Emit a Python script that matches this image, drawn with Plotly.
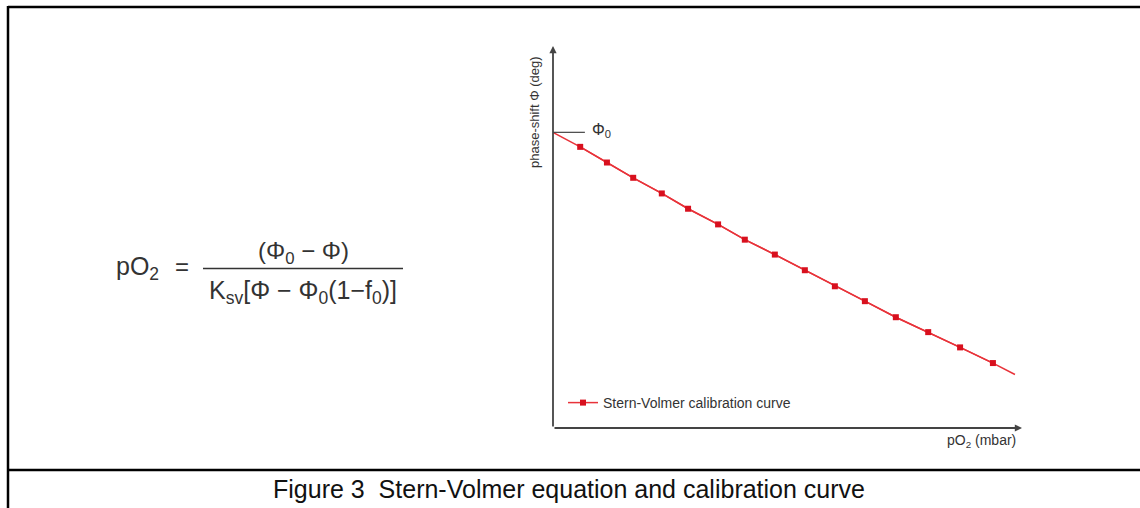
import plotly.graph_objects as go

# Data (arbitrary units: pO2 0..100, phase-shift 0..100)
po2_points = [5.8, 11.5, 17.1, 23.2, 28.8, 35.2, 40.9, 47.3, 53.7, 60.1, 66.5, 73.1, 80.0, 86.8, 93.8]
phase_points = [73.6, 69.5, 65.5, 61.4, 57.4, 53.3, 49.3, 45.4, 41.3, 37.1, 33.2, 29.0, 25.1, 21.1, 17.0]
phi0 = 77.4
po2_end = 98.5
phase_end = 14.0

series_name = "Stern-Volmer calibration curve"
x_title = "pO<sub>2</sub> (mbar)"
y_title = "phase-shift Φ (deg)"
caption = "Figure 3  Stern-Volmer equation and calibration curve"

W, H = 1140, 508
def px(x):
    return x / W
def py(y):
    return 1 - y / H

RED_LINE = "#e8333a"
RED_MARK = "#d8101e"
AXIS = "#444444"
TXT = "#333333"

fig = go.Figure()
fig.add_trace(go.Scatter(x=[0.0] + po2_points + [po2_end],
                         y=[phi0] + phase_points + [phase_end],
                         mode="lines",
                         line=dict(color=RED_LINE, width=1.5),
                         showlegend=False, hoverinfo="skip"))
fig.add_trace(go.Scatter(x=po2_points, y=phase_points, mode="lines+markers",
                         name=series_name,
                         line=dict(color=RED_LINE, width=1.5),
                         marker=dict(symbol="square", size=6, color=RED_MARK)))

shapes = [
    # frame
    dict(type="line", xref="paper", yref="paper", x0=px(8), x1=1, y0=py(7), y1=py(7),
         line=dict(color="black", width=2.5)),
    dict(type="line", xref="paper", yref="paper", x0=px(8), x1=px(8), y0=py(6), y1=0,
         line=dict(color="black", width=2.5)),
    dict(type="line", xref="paper", yref="paper", x0=px(8), x1=1, y0=py(470), y1=py(470),
         line=dict(color="black", width=2.5)),
    # fraction bar
    dict(type="line", xref="paper", yref="paper", x0=px(203), x1=px(403), y0=py(268.5), y1=py(268.5),
         line=dict(color=TXT, width=1.5)),
    # Phi0 tick
    dict(type="line", xref="x", yref="y", x0=0, x1=6.8, y0=phi0, y1=phi0,
         line=dict(color=AXIS, width=1.2)),
]

annotations = [
    # axes with arrows
    dict(x=0, y=100, ax=0, ay=0, xref="x", yref="y", axref="x", ayref="y",
         showarrow=True, arrowhead=2, arrowsize=0.8, arrowwidth=1.8, arrowcolor=AXIS, text=""),
    dict(x=100, y=0, ax=0, ay=0, xref="x", yref="y", axref="x", ayref="y",
         showarrow=True, arrowhead=2, arrowsize=0.8, arrowwidth=1.8, arrowcolor=AXIS, text=""),
    # axis titles
    dict(x=px(1018), y=py(441), xref="paper", yref="paper", xanchor="right", yanchor="middle",
         text=x_title, showarrow=False, font=dict(size=14, color=TXT)),
    dict(x=px(534), y=py(112), xref="paper", yref="paper", xanchor="center", yanchor="middle",
         text=y_title, textangle=-90, showarrow=False, font=dict(size=13, color=TXT)),
    dict(x=px(590), y=py(130), xref="paper", yref="paper", xanchor="left", yanchor="middle",
         text="Φ<sub>0</sub>", showarrow=False, font=dict(size=16, color=TXT)),
    # formula
    dict(x=px(114), y=py(268), xref="paper", yref="paper", xanchor="left", yanchor="middle",
         text="pO<sub>2</sub>", showarrow=False, font=dict(size=25, color=TXT)),
    dict(x=px(182), y=py(266), xref="paper", yref="paper", xanchor="center", yanchor="middle",
         text="=", showarrow=False, font=dict(size=24, color=TXT)),
    dict(x=px(303), y=py(252), xref="paper", yref="paper", xanchor="center", yanchor="middle",
         text="(Φ<sub>0</sub> − Φ)", showarrow=False, font=dict(size=24, color=TXT)),
    dict(x=px(303), y=py(292), xref="paper", yref="paper", xanchor="center", yanchor="middle",
         text="K<sub>sv</sub>[Φ − Φ<sub>0</sub>(1−f<sub>0</sub>)]", showarrow=False,
         font=dict(size=25, color=TXT)),
    # caption
    dict(x=px(569), y=py(489), xref="paper", yref="paper", xanchor="center", yanchor="middle",
         text=caption, showarrow=False, font=dict(size=25, color="#111111")),
]

fig.update_layout(
    width=W, height=H,
    margin=dict(l=0, r=0, t=0, b=0),
    paper_bgcolor="white", plot_bgcolor="white",
    font=dict(family="Liberation Sans, Arial, sans-serif", color=TXT),
    xaxis=dict(domain=[px(553), px(1022)], range=[0, 100], visible=False, fixedrange=True),
    yaxis=dict(domain=[py(428), py(46)], range=[0, 100], visible=False, fixedrange=True),
    shapes=shapes,
    annotations=annotations,
    legend=dict(x=px(563), y=py(403), xanchor="left", yanchor="middle",
                bgcolor="rgba(0,0,0,0)", font=dict(size=14, color=TXT),
                itemwidth=30),
    showlegend=True,
)

fig.write_html("out.html", config={"displayModeBar": False},
               post_script="document.body.style.margin='0px';")
